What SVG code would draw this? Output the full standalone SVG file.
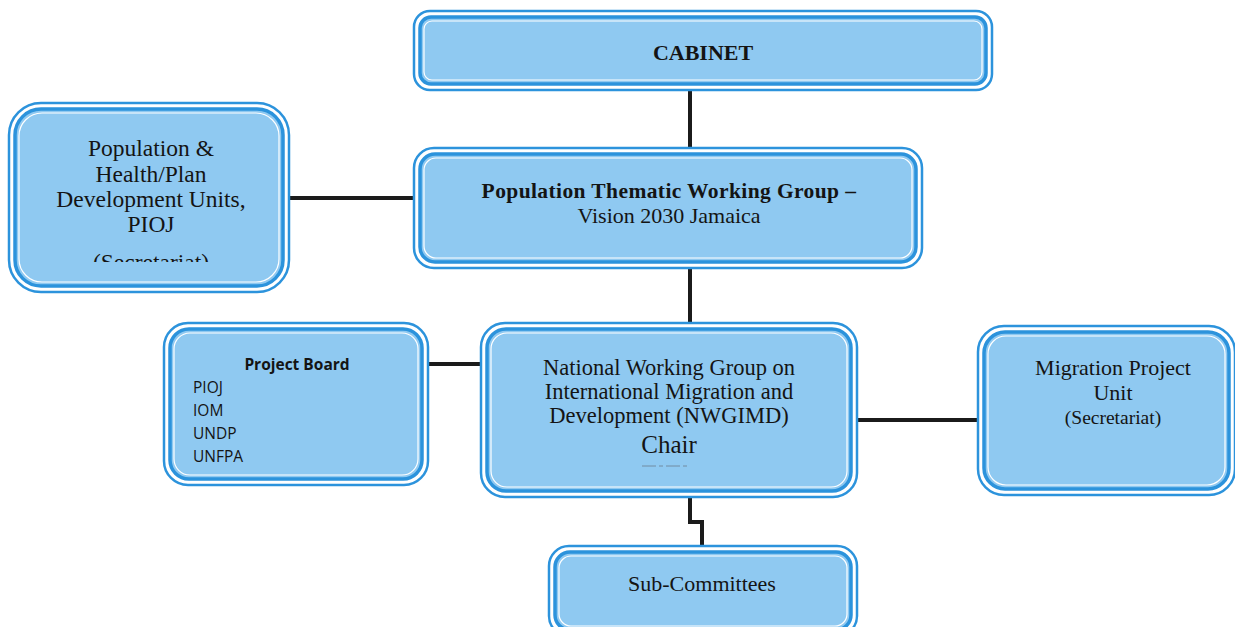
<svg xmlns="http://www.w3.org/2000/svg" width="1235" height="627" viewBox="0 0 1235 627">
<defs>
<style>
.o{fill:#ffffff;stroke:#2c93dc;stroke-width:2.5}
.m{fill:#8fc9f1;stroke:#2c93dc;stroke-width:3.5}
.i{fill:none;stroke:#ffffff;stroke-width:1.2}
.c{fill:none;stroke:#1b1b1b;stroke-width:4}
.s{font-family:"Liberation Serif",serif;fill:#141414;text-anchor:middle}
.b{font-family:"Open Sans","Liberation Sans",sans-serif;fill:#141414}
</style>
<clipPath id="clipPH"><rect x="16" y="110" width="266" height="152"/></clipPath>
</defs>
<rect width="1235" height="627" fill="#ffffff"/>
<g id="connectors">
<line class="c" x1="690" y1="90" x2="690" y2="149"/>
<line class="c" x1="289" y1="198" x2="414" y2="198"/>
<line class="c" x1="690" y1="268" x2="690" y2="323"/>
<line class="c" x1="428" y1="364" x2="481" y2="364"/>
<line class="c" x1="857" y1="420" x2="978" y2="420"/>
<polyline class="c" points="690,497 690,522 702,522 702,546"/>
</g>
<g id="cabinet">
<rect class="o" x="414" y="11" width="578" height="79" rx="16"/>
<rect class="m" x="420" y="17" width="566" height="67" rx="11"/>
<rect class="i" x="424" y="21" width="558" height="59" rx="8"/>
<text class="s" x="703" y="60" font-size="22" font-weight="bold">CABINET</text>
</g>
<g id="thematic">
<rect class="o" x="414" y="148" width="508" height="120" rx="20"/>
<rect class="m" x="420" y="154" width="496" height="108" rx="15"/>
<rect class="i" x="424" y="158" width="488" height="100" rx="12"/>
<text class="s" x="669" y="198" font-size="21.5" font-weight="bold" letter-spacing="0.4">Population Thematic Working Group –</text>
<text class="s" x="669" y="223" font-size="22">Vision 2030 Jamaica</text>
</g>
<g id="pophealth">
<rect class="o" x="9" y="103" width="280" height="189" rx="32"/>
<rect class="m" x="15" y="109" width="268" height="177" rx="26"/>
<rect class="i" x="19" y="113" width="260" height="169" rx="23"/>
<g clip-path="url(#clipPH)">
<text class="s" x="151" y="156" font-size="23.5">Population &amp;</text>
<text class="s" x="151" y="182" font-size="23.5">Health/Plan</text>
<text class="s" x="151" y="207" font-size="23.5">Development Units,</text>
<text class="s" x="151" y="232" font-size="23.5">PIOJ</text>
<text class="s" x="151" y="270" font-size="23.5">(Secretariat)</text>
</g>
</g>
<g id="projectboard">
<rect class="o" x="164" y="323" width="264" height="162" rx="24"/>
<rect class="m" x="170" y="329" width="252" height="150" rx="19"/>
<rect class="i" x="174" y="333" width="244" height="142" rx="16"/>
<text class="b" x="297" y="370" font-size="15.5" font-weight="bold" text-anchor="middle">Project Board</text>
<text class="b" x="193" y="393" font-size="15.5">PIOJ</text>
<text class="b" x="193" y="416" font-size="15.5">IOM</text>
<text class="b" x="193" y="439" font-size="15.5">UNDP</text>
<text class="b" x="193" y="462" font-size="15.5">UNFPA</text>
</g>
<g id="nwgimd">
<rect class="o" x="481" y="323" width="376" height="174" rx="24"/>
<rect class="m" x="487" y="329" width="364" height="162" rx="19"/>
<rect class="i" x="491" y="333" width="356" height="154" rx="16"/>
<text class="s" x="669" y="375" font-size="22.5">National Working Group on</text>
<text class="s" x="669" y="399" font-size="22.5">International Migration and</text>
<text class="s" x="669" y="423" font-size="22.5">Development (NWGIMD)</text>
<text class="s" x="669" y="453" font-size="25">Chair</text>
<line x1="642" y1="466" x2="688" y2="466" stroke="#6a7f90" stroke-width="0.8" stroke-dasharray="14,3,4,3"/>
</g>
<g id="migration">
<rect class="o" x="978" y="326" width="257" height="169" rx="26"/>
<rect class="m" x="984" y="332" width="245" height="157" rx="21"/>
<rect class="i" x="988" y="336" width="237" height="149" rx="18"/>
<text class="s" x="1113" y="375" font-size="22">Migration Project</text>
<text class="s" x="1113" y="400" font-size="22">Unit</text>
<text class="s" x="1113" y="424" font-size="19.5">(Secretariat)</text>
</g>
<g id="subcommittees">
<rect class="o" x="549" y="546" width="308" height="90" rx="20"/>
<rect class="m" x="555" y="552" width="296" height="78" rx="15"/>
<rect class="i" x="559" y="556" width="288" height="70" rx="12"/>
<text class="s" x="702" y="591" font-size="22">Sub-Committees</text>
</g>
</svg>
